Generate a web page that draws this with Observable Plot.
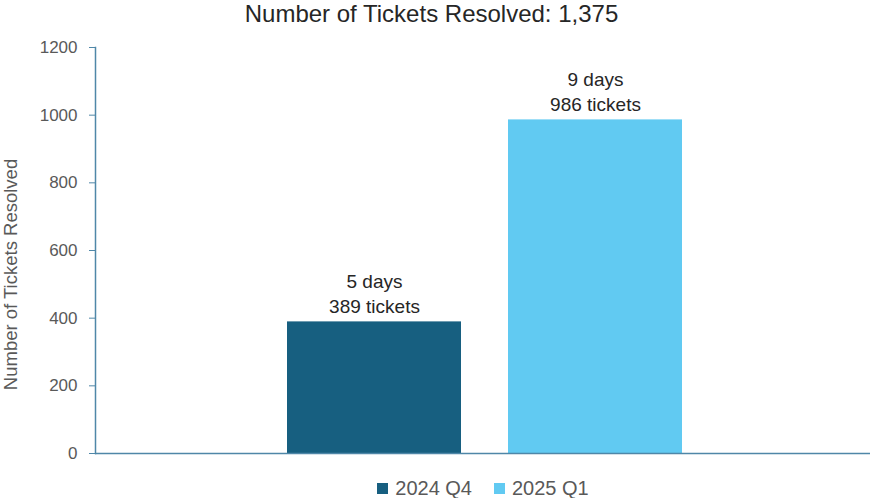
<!DOCTYPE html>
<html>
<head>
<meta charset="utf-8">
<script src="https://cdn.jsdelivr.net/npm/d3@7"></script>
<script src="https://cdn.jsdelivr.net/npm/@observablehq/plot@0.6"></script>
<style>
  body { margin: 0; background: #fff; font-family: "Liberation Sans", Arial, sans-serif; }
  #title { width: 871px; height: 28px; text-align: center; font-family: "Liberation Sans", Arial, sans-serif; font-size: 24px; line-height: 27px; color: #262626; padding-right: 8px; box-sizing: border-box; }
  #legend { width: 871px; display: flex; justify-content: center; gap: 22px; font-size: 20px; color: #595959; margin-top: 9px; padding-left: 95px; box-sizing: border-box; }
  #legend span.item { display: flex; align-items: center; gap: 7px; }
  #legend span.sw { width: 11px; height: 11px; display: inline-block; }
</style>
</head>
<body>
<div id="title"></div>
<div id="chart"></div>
<div id="legend"></div>
<script>
const titleText = "Number of Tickets Resolved: 1,375";
const periods = ["2024 Q4", "2025 Q1"];
const tickets = [389, 986];
const days = [5, 9];
const colors = ["#175f80", "#61caf2"];
const yTicks = [0, 200, 400, 600, 800, 1000, 1200];
const yLabel = "Number of Tickets Resolved";

const data = periods.map((p, i) => ({period: p, tickets: tickets[i], days: days[i]}));
const axisColor = "#4f87a8";

document.getElementById("title").textContent = titleText;

const chart = Plot.plot({
  width: 871,
  height: 440,
  marginLeft: 95,
  marginRight: 1,
  marginTop: 19,
  marginBottom: 15,
  style: {fontFamily: "'Liberation Sans', Arial, sans-serif", background: "#fff"},
  x: {domain: periods, range: [287, 682], paddingInner: 0.213, paddingOuter: 0, axis: null},
  y: {domain: [0, 1200]},
  color: {domain: periods, range: colors},
  marks: [
    Plot.barY(data, {x: "period", y: "tickets", fill: "period"}),
    Plot.axisY({ticks: yTicks, tickFormat: d => String(d), tickSize: 6, tickPadding: 12, stroke: axisColor, fill: "#595959", fontSize: 17,
      label: yLabel, labelAnchor: "center", labelArrow: "none", labelOffset: 92}),
    Plot.frame({anchor: "left", stroke: axisColor, strokeWidth: 1.5}),
    Plot.ruleY([0], {stroke: axisColor, strokeWidth: 1.5}),
    Plot.text(data, {x: "period", y: "tickets", text: d => `${d.days} days\n${d.tickets} tickets`,
      lineAnchor: "bottom", dy: -9, lineHeight: 1.3, fontSize: 19, fill: "#262626"})
  ]
});
document.getElementById("chart").appendChild(chart);
chart.querySelectorAll("[aria-label='y-axis label'] text").forEach(t => {
  t.style.fontSize = "18.5px";
  t.setAttribute("fill", "#595959");
  const tr = t.getAttribute("transform") || "";
  const m = tr.match(/translate\(([^,]+),([^)]+)\)(.*)/);
  if (m) t.setAttribute("transform", `translate(${m[1]},${+m[2] + 24})${m[3]}`);
});

const legend = document.getElementById("legend");
periods.forEach((p, i) => {
  const item = document.createElement("span");
  item.className = "item";
  const sw = document.createElement("span");
  sw.className = "sw";
  sw.style.background = colors[i];
  item.appendChild(sw);
  item.appendChild(document.createTextNode(p));
  legend.appendChild(item);
});
</script>
</body>
</html>
